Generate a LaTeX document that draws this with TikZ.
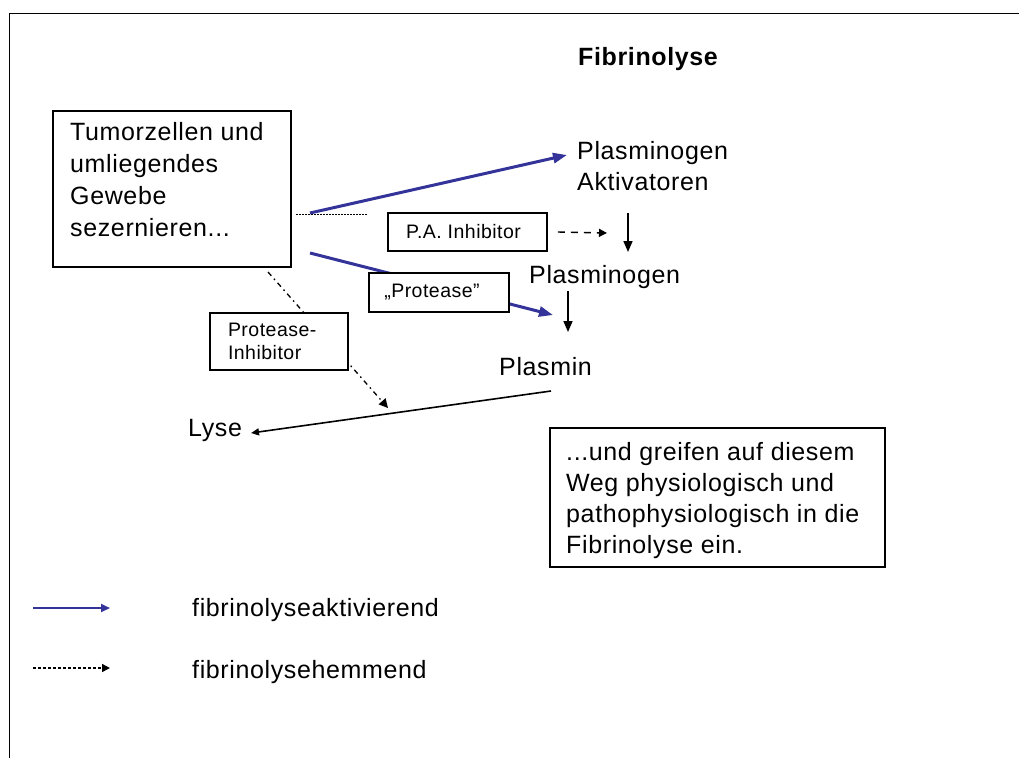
\documentclass[tikz,border=0pt]{standalone}
\usepackage{fontspec}
\setmainfont{Liberation Sans}[LetterSpace=2.5]
\usetikzlibrary{arrows.meta}
\definecolor{actblue}{RGB}{51,51,153}
\newcommand\fbig{\fontsize{25}{31}\selectfont}
\newcommand\fsmall{\fontsize{19.5}{23}\selectfont}
\newcommand\ftitle{\fontsize{25}{31}\selectfont\bfseries}
\begin{document}
\begin{tikzpicture}[x=1pt,y=-1pt,
  boxed/.style={draw, line width=1.6pt, inner sep=0pt},
  txt/.style={inner sep=0pt, font=\fbig},
  smalltxt/.style={font=\fsmall},
  activ/.style={draw=actblue, line width=3pt, -{Triangle[length=14pt,width=10pt]}},
  flow/.style={draw=black, line width=1.6pt, -{Triangle[length=11pt,width=9pt]}},
  inhib/.style={draw=black, line width=1.4pt, dash pattern=on 7pt off 6pt, -{Triangle[length=8pt,width=8pt]}},
  dashdot/.style={draw=black, line width=1.3pt, dash pattern=on 5pt off 4pt on 1.5pt off 4pt, -{Triangle[length=9pt,width=9pt]}},
  finedot/.style={draw=black, line width=1.3pt, dash pattern=on 1.5pt off 1.5pt}
]
\useasboundingbox (0,0) rectangle (1019,758);
% frame
\draw[line width=1.5pt] (1019,13.5) -- (9.5,13.5) -- (9.5,758);

% title
\node[txt, font=\ftitle, anchor=base west] (title) at (578,65.5) {Fibrinolyse};

% source box
\node[boxed, minimum width=238, minimum height=156, anchor=north west] (src) at (52,110) {};
\node[txt, anchor=north west, align=left] (srctxt) at (70,122) {Tumorzellen und\\[1pt]umliegendes\\[1pt]Gewebe\\[1pt]sezernieren...};

% texts
\node[txt, anchor=north west, align=left] (pa) at (577,141) {Plasminogen\\Aktivatoren};
\node[txt, anchor=base west] (plg) at (529,283) {Plasminogen};
\node[txt, anchor=base west] (plm) at (499,375) {Plasmin};
\node[txt, anchor=base west] (lyse) at (188,436) {Lyse};

% coordinates
\coordinate (srcA) at (310,213);
\coordinate (paIn) at (567,155);
\coordinate (srcB) at (310,253);
\coordinate (plgIn) at (553,315);
\coordinate (dotS) at (296,214.5);
\coordinate (dotE) at (368,214.5);
\coordinate (pieS) at (268,272);
\coordinate (pieE) at (388,408);
\coordinate (paOut) at (628,213);
\coordinate (plgTop) at (628,252);
\coordinate (plgOut) at (568,291);
\coordinate (plmTop) at (568,332);
\coordinate (plmOut) at (551,391);
\coordinate (lyseIn) at (251,433);
\coordinate (paiTip) at (607,233);

% connectors
\draw[activ] (srcA) -- (paIn);
\draw[finedot] (dotS) -- (dotE);
\draw[activ] (srcB) -- (plgIn);
\draw[dashdot] (pieS) -- (pieE);
\draw[flow] (paOut) -- (plgTop);
\draw[flow] (plgOut) -- (plmTop);
\draw[draw=black, line width=1.6pt, -{Triangle[length=8pt,width=7pt]}] (plmOut) -- (lyseIn);

% small boxes (over lines)
\node[boxed, fill=white, smalltxt, minimum width=159, minimum height=38] (pai) at (467.5,232) {P.A. Inhibitor\hspace*{8pt}};
\node[boxed, fill=white, smalltxt, minimum width=140, minimum height=39] (prot) at (439,292.5) {„Protease"\hspace*{14pt}};
\node[boxed, fill=white, smalltxt, text width=102, inner xsep=18pt, minimum height=57, align=left] (pinh) at (279,341.5) {Protease-\\Inhibitor};

\draw[inhib] ([xshift=10pt]pai.east) -- (paiTip);

% note box
\node[boxed, minimum width=335, minimum height=139, anchor=north west] (note) at (549,427) {};
\node[txt, anchor=north west, align=left] (notetxt) at (566,442) {...und greifen auf diesem\\Weg physiologisch und\\pathophysiologisch in die\\Fibrinolyse ein.};

% legend
\coordinate (l1s) at (33,608);
\coordinate (l1e) at (110,608);
\coordinate (l2s) at (33,668);
\coordinate (l2e) at (110,668);
\draw[draw=actblue, line width=2pt, -{Triangle[length=9pt,width=8pt]}] (l1s) -- (l1e);
\draw[draw=black, line width=1.4pt, dash pattern=on 3pt off 2pt, -{Triangle[length=8pt,width=8pt]}] (l2s) -- (l2e);
\node[txt, anchor=base west] (leg1) at (192,616) {fibrinolyseaktivierend};
\node[txt, anchor=base west] (leg2) at (192,678) {fibrinolysehemmend};
\end{tikzpicture}
\end{document}
